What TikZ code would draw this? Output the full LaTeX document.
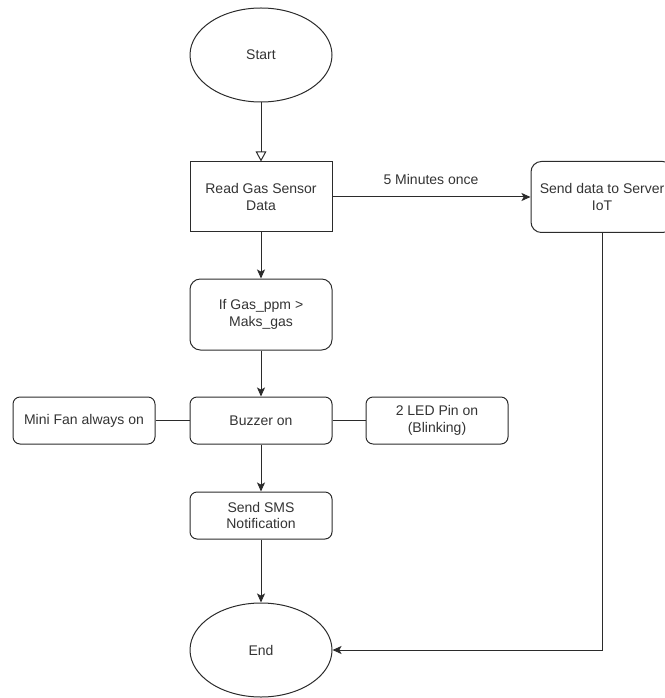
\documentclass[tikz,border=0pt]{standalone}
\usepackage{fontspec}
\setmainfont{Liberation Sans}
\usetikzlibrary{shapes.geometric,arrows.meta}
\definecolor{ink}{HTML}{2B2B2B}
\definecolor{txt}{HTML}{333333}
\tikzset{
  every node/.style={font=\fontsize{10.5}{12.2}\selectfont, text=txt},
  base/.style={draw=ink, line width=0.75pt, inner sep=0pt, align=center, minimum width=106.5pt},
  sqbox/.style={base, minimum height=52.5pt},
  bigbox/.style={base, rounded corners=7.8pt, minimum height=53.25pt},
  smallbox/.style={base, rounded corners=5.3pt, minimum height=35.25pt},
  term/.style={base, ellipse, minimum width=106.5pt, minimum height=70.5pt},
  link/.style={draw=ink, line width=0.75pt},
  flow/.style={link, -{Stealth[length=6.75pt,width=6pt,inset=1.6pt]}},
  openflow/.style={link, -{Triangle[open,length=7.5pt,width=8pt]}}
}
\begin{document}
\begin{tikzpicture}[x=0.75pt,y=-0.75pt]
\useasboundingbox (0,0) rectangle (664,698);
\node[term] (start) at (261,55) {Start};
\node[sqbox] (read) at (261,197) {Read Gas Sensor\\Data};
\node[bigbox] (server) at (602,197) {Send data to Server\\IoT};
\node[bigbox] (iff) at (261,314.5) {If Gas\_ppm >\\Maks\_gas};
\node[smallbox] (buzzer) at (261,420.5) {Buzzer on};
\node[smallbox] (fan) at (84,420.5) {Mini Fan always on};
\node[smallbox] (led) at (437,420.5) {2 LED Pin on\\(Blinking)};
\node[smallbox] (sms) at (261,515.5) {Send SMS\\Notification};
\node[term] (end) at (261,650) {End};
\node (lbl) at (431,179) {5 Minutes once};
\draw[openflow] (start) -- (read);
\draw[flow] (read) -- (server);
\draw[flow] (read) -- (iff);
\draw[flow] (iff) -- (buzzer);
\draw[flow] (buzzer) -- (sms);
\draw[flow] (sms) -- (end);
\draw[link] (fan) -- (buzzer);
\draw[link] (buzzer) -- (led);
\draw[flow] (server.south) |- (end.east);
\end{tikzpicture}
\end{document}
